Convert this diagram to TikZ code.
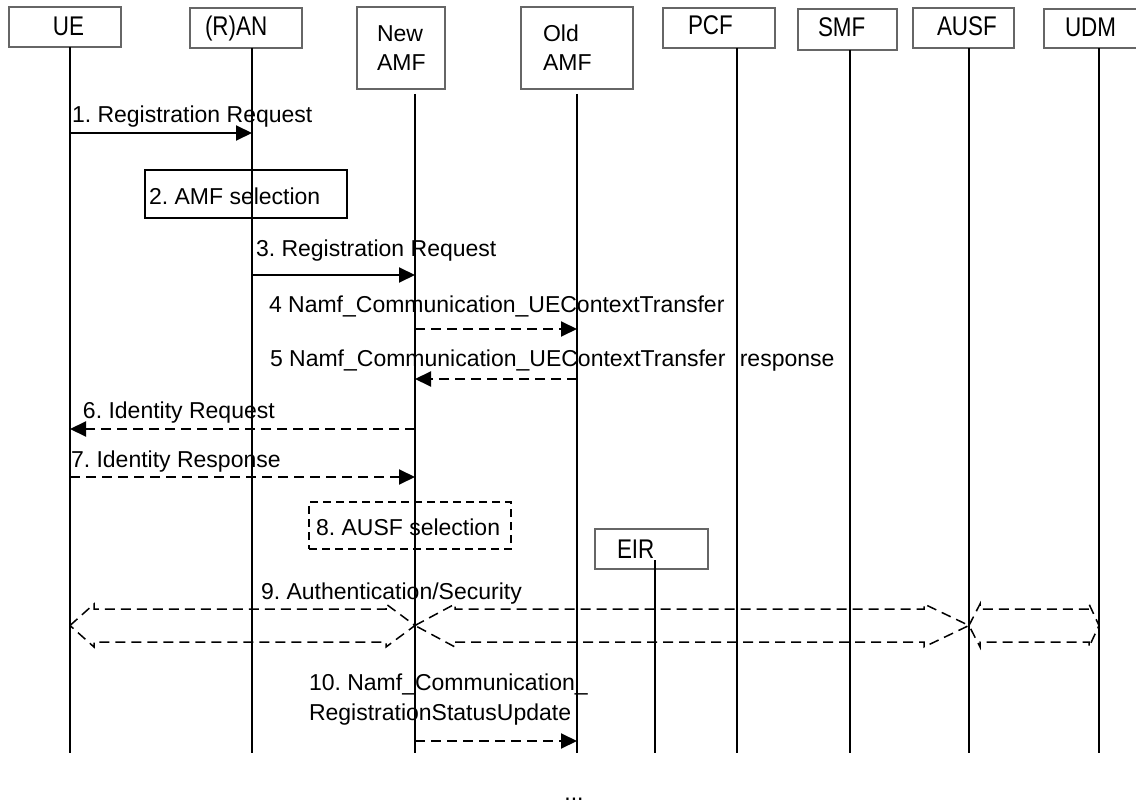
\documentclass[tikz,border=0pt]{standalone}
\usepackage{fontspec}
\setmainfont{Liberation Sans}
\newfontfamily\tallfont[FakeStretch=0.83]{Liberation Sans}
\usetikzlibrary{arrows.meta,calc}
\newcommand\mkblockarrow[4]{%
  \draw[blk] (#1,625.5) -- (#1+#3,604) -- (#1+#3,609) -- (#2-#4,609) -- (#2-#4,604)
    -- (#2,625.5) -- (#2-#4,647) -- (#2-#4,642) -- (#1+#3,642) -- (#1+#3,647) -- cycle;}
\begin{document}
\frenchspacing
\begin{tikzpicture}[x=0.5pt,y=-0.5pt,
  every node/.style={font=\fontsize{11.5}{13.8}\selectfont\frenchspacing, inner sep=0pt, outer sep=0pt},
  ebox/.style={draw=black!60, line width=0.6pt, anchor=north west, inner sep=0pt},
  txt/.style={anchor=base west},
  talltxt/.style={anchor=base west, font=\tallfont\fontsize{13.5}{16}\selectfont},
  life/.style={line width=1pt},
  msg/.style={line width=1pt, -{Triangle[length=8pt,width=7.5pt]}},
  dmsg/.style={msg, dash pattern=on 5pt off 3pt},
  blk/.style={line width=0.75pt, dash pattern=on 5pt off 3pt, line join=miter}]
\useasboundingbox (0,0) rectangle (1136,802);

% entity boxes
\node[ebox, minimum width=56pt, minimum height=20pt] (uebox) at (9,7) {};
\node[ebox, minimum width=56pt, minimum height=20pt] (ranbox) at (190,8) {};
\node[ebox, minimum width=44pt, minimum height=41pt] (newbox) at (357,7) {};
\node[ebox, minimum width=56pt, minimum height=41pt] (oldbox) at (521,7) {};
\node[ebox, minimum width=56pt, minimum height=20pt] (pcfbox) at (663,8) {};
\node[ebox, minimum width=49.5pt, minimum height=20.5pt] (smfbox) at (798,9) {};
\node[ebox, minimum width=50.5pt, minimum height=20pt] (ausfbox) at (913,8) {};
\node[ebox, minimum width=50pt, minimum height=19.5pt] (udmbox) at (1044,9) {};

\node[talltxt] (uet) at (53,36) {UE};
\node[talltxt] (rant) at (205,36) {(R)AN};
\node[txt] (newt1) at (377,42) {New};
\node[txt] (newt2) at (377,71) {AMF};
\node[txt] (oldt1) at (543,42) {Old};
\node[txt] (oldt2) at (543,71) {AMF};
\node[talltxt] (pcft) at (688,35) {PCF};
\node[talltxt] (smft) at (818,37) {SMF};
\node[talltxt] (ausft) at (937,36) {AUSF};
\node[talltxt] (udmt) at (1065,37) {UDM};

% lifeline positions
\coordinate (ue) at (70,0);
\coordinate (ran) at (252,0);
\coordinate (new) at (415,0);
\coordinate (old) at (577,0);
\coordinate (pcf) at (737,0);
\coordinate (smf) at (850,0);
\coordinate (ausf) at (969,0);
\coordinate (udm) at (1099,0);
\coordinate (eir) at (655,0);
\coordinate (amftop) at (0,94);
\coordinate (endy) at (0,753);

\draw[life] (ue |- uebox.south) -- (ue |- endy);
\draw[life] (ran |- ranbox.south) -- (ran |- endy);
\draw[life] (new |- amftop) -- (new |- endy);
\draw[life] (old |- amftop) -- (old |- endy);
\draw[life] (pcf |- pcfbox.south) -- (pcf |- endy);
\draw[life] (smf |- smfbox.south) -- (smf |- endy);
\draw[life] (ausf |- ausfbox.south) -- (ausf |- endy);
\draw[life] (udm |- udmbox.south) -- (udm |- endy);

% 1
\coordinate (y1) at (0,133);
\draw[msg] (ue |- y1) -- (ran |- y1);
\node[txt] (l1) at (72,123) {1. Registration Request};
% 2
\node[draw, line width=0.8pt, anchor=north west, minimum width=101pt, minimum height=24pt] (b2) at (145,170) {};
\node[txt] (l2) at (149,205) {2. AMF selection};
% 3
\coordinate (y3) at (0,275);
\draw[msg] (ran |- y3) -- (new |- y3);
\node[txt] (l3) at (256,257) {3. Registration Request};
% 4
\coordinate (y4) at (0,329);
\draw[dmsg] (new |- y4) -- (old |- y4);
\node[txt] (l4) at (269,313) {4 Namf\_Communication\_UEContextTransfer};
% 5
\coordinate (y5) at (0,379);
\draw[dmsg] (old |- y5) -- (new |- y5);
\node[txt] (l5) at (270,366) {5 Namf\_Communication\_UEContextTransfer\hspace{4pt} response};
% 6
\coordinate (y6) at (0,429);
\draw[dmsg] (new |- y6) -- (ue |- y6);
\node[txt] (l6) at (83,419) {6. Identity Request};
% 7
\coordinate (y7) at (0,477);
\draw[dmsg] (ue |- y7) -- (new |- y7);
\node[txt] (l7) at (71,467) {7. Identity Response};
% 8
\node[draw, line width=0.8pt, dash pattern=on 4pt off 2.5pt, anchor=north west, minimum width=101pt, minimum height=23.5pt] (b8) at (309,502) {};
\node[txt] (l8) at (316,535) {8. AUSF selection};
% EIR
\node[ebox, minimum width=56.5pt, minimum height=20pt] (eirbox) at (595,529) {};
\node[talltxt] (eirt) at (617,558) {EIR};
\coordinate (eirtop) at (0,560);
\draw[life] (eir |- eirtop) -- (eir |- endy);
% 9
\node[txt] (l9) at (261,599) {9. Authentication/Security};
\mkblockarrow{70}{415}{24}{29}
\mkblockarrow{415}{969}{40}{45}
\mkblockarrow{969}{1099}{11}{10}
% 10
\node[txt] (l10a) at (309,690) {10. Namf\_Communication\_};
\node[txt] (l10b) at (309,720) {RegistrationStatusUpdate};
\coordinate (y10) at (0,741);
\draw[dmsg] (new |- y10) -- (old |- y10);
% dots
\node[anchor=base] (dots) at (574,800) {...};
\end{tikzpicture}
\end{document}
